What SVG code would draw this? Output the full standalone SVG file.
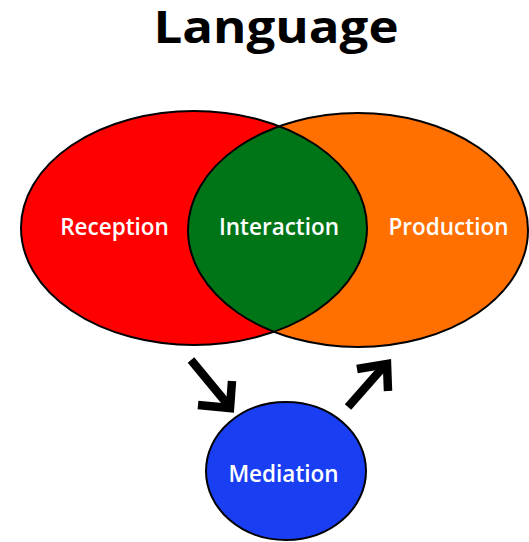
<svg xmlns="http://www.w3.org/2000/svg" width="529" height="542" viewBox="0 0 529 542">
  <style>
    .title { font-family: "Open Sans", "Noto Sans", "Liberation Sans", sans-serif; font-weight: 700; font-size: 44px; fill: #000; text-anchor: middle; }
    .label { font-family: "Open Sans", "Noto Sans", "Liberation Sans", sans-serif; font-weight: 600; font-size: 22.5px; fill: #fff; text-anchor: middle; }
    .outline { fill: none; stroke: #000; stroke-width: 2; }
    .arrow { fill: none; stroke: #000; stroke-width: 8.5; stroke-linecap: butt; stroke-linejoin: miter; }
  </style>
  <defs>
    <clipPath id="production-area">
      <ellipse cx="358" cy="230" rx="170" ry="117"/>
    </clipPath>
  </defs>
  <rect width="529" height="542" fill="#fff"/>

  <g id="title">
    <text class="title" x="276" y="43" textLength="245" lengthAdjust="spacingAndGlyphs">Language</text>
  </g>

  <g id="reception">
    <ellipse cx="194" cy="228" rx="173" ry="117" fill="#ff0000"/>
  </g>
  <g id="production">
    <ellipse cx="358" cy="230" rx="170" ry="117" fill="#ff7000"/>
  </g>
  <g id="interaction">
    <!-- overlap of the two ellipses -->
    <ellipse cx="194" cy="228" rx="173" ry="117" fill="#007518" clip-path="url(#production-area)"/>
  </g>
  <g id="outlines">
    <ellipse class="outline" cx="194" cy="228" rx="173" ry="117"/>
    <ellipse class="outline" cx="358" cy="230" rx="170" ry="117"/>
  </g>
  <g id="labels">
    <text class="label" x="114.5" y="235">Reception</text>
    <text class="label" x="279" y="235">Interaction</text>
    <text class="label" x="448.5" y="235">Production</text>
  </g>

  <g id="mediation">
    <ellipse cx="286" cy="471" rx="80" ry="69" fill="#1a3ff2" stroke="#000" stroke-width="2"/>
    <text class="label" x="283.5" y="482">Mediation</text>
  </g>

  <g id="connectors">
    <!-- reception to mediation -->
    <line class="arrow" x1="191" y1="360" x2="229" y2="406"/>
    <polyline class="arrow" points="198,405 230,408 232,381"/>
    <!-- mediation to production -->
    <line class="arrow" x1="348" y1="407" x2="385" y2="365"/>
    <polyline class="arrow" points="357,369 387,364 388,391"/>
  </g>
</svg>
